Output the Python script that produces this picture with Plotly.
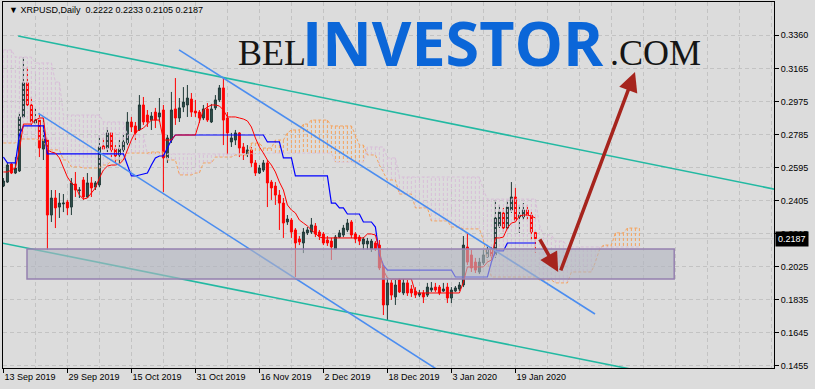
import plotly.graph_objects as go

# ---------------- data ----------------
tick_bars = [0, 16, 32, 48, 64, 80, 96, 112, 128]
tick_labels = ["13 Sep 2019", "29 Sep 2019", "15 Oct 2019", "31 Oct 2019", "16 Nov 2019",
               "2 Dec 2019", "18 Dec 2019", "3 Jan 2020", "19 Jan 2020"]
price_ticks = [0.1455, 0.1645, 0.1835, 0.2025, 0.2215, 0.2405, 0.2595, 0.2785, 0.2975, 0.3165, 0.3360]
price_tick_text = ["0.1455", "0.1645", "0.1835", "0.2025", "0.2215", "0.2405", "0.2595",
                   "0.2785", "0.2975", "0.3165", "0.3360"]

open_ = [
    0.2490, 0.2513, 0.2617, 0.2565, 0.2577, 0.2888, 0.3084, 0.2957, 0.2853, 0.2870,
    0.2703, 0.2755, 0.2323, 0.2421, 0.2369, 0.2387, 0.2398, 0.2369, 0.2502, 0.2464,
    0.2525, 0.2427, 0.2508, 0.2484, 0.2496, 0.2721, 0.2709, 0.2796, 0.2703, 0.2669,
    0.2698, 0.2738, 0.2859, 0.2836, 0.2813, 0.2957, 0.2899, 0.2870, 0.2916, 0.2888,
    0.2928, 0.2652, 0.2755, 0.2934, 0.2882, 0.2945, 0.2957, 0.2991, 0.2922, 0.2916,
    0.2882, 0.2934, 0.2859, 0.2940, 0.2986, 0.3055, 0.2882, 0.2744, 0.2755, 0.2796,
    0.2715, 0.2675, 0.2698, 0.2623, 0.2565, 0.2582, 0.2623, 0.2513, 0.2490, 0.2438,
    0.2392, 0.2283, 0.2294, 0.2237, 0.2185, 0.2162, 0.2220, 0.2225, 0.2260, 0.2225,
    0.2214, 0.2179, 0.2173, 0.2127, 0.2196, 0.2208, 0.2237, 0.2283, 0.2214, 0.2196,
    0.2156, 0.2156, 0.2127, 0.2162, 0.2150, 0.2024, 0.1805, 0.1932, 0.1851, 0.1949,
    0.1874, 0.1932, 0.1897, 0.1885, 0.1862, 0.1874, 0.1862, 0.1891, 0.1908, 0.1908,
    0.1885, 0.1908, 0.1845, 0.1885, 0.1897, 0.1920, 0.2139, 0.2093, 0.2052, 0.1995,
    0.2047, 0.2081, 0.2122, 0.2093, 0.2260, 0.2335, 0.2248, 0.2352, 0.2427, 0.2312,
    0.2312, 0.2352, 0.2323, 0.2222]
high = [
    0.2536, 0.2623, 0.2623, 0.2657, 0.2916, 0.3233, 0.3176, 0.3003, 0.2940, 0.2899,
    0.2888, 0.2767, 0.2467, 0.2467, 0.2450, 0.2444, 0.2410, 0.2536, 0.2571, 0.2484,
    0.2542, 0.2565, 0.2542, 0.2519, 0.2784, 0.2767, 0.2830, 0.2801, 0.2726, 0.2755,
    0.2784, 0.2916, 0.2888, 0.2859, 0.3014, 0.3003, 0.2928, 0.2916, 0.2940, 0.2997,
    0.2957, 0.2784, 0.3032, 0.3112, 0.2997, 0.3060, 0.3072, 0.3026, 0.2986, 0.2928,
    0.2957, 0.2968, 0.2963, 0.3014, 0.3072, 0.3118, 0.2916, 0.2796, 0.2813, 0.2801,
    0.2738, 0.2726, 0.2715, 0.2640, 0.2611, 0.2640, 0.2640, 0.2525, 0.2513, 0.2467,
    0.2421, 0.2323, 0.2306, 0.2248, 0.2202, 0.2248, 0.2254, 0.2306, 0.2277, 0.2237,
    0.2225, 0.2202, 0.2191, 0.2208, 0.2237, 0.2266, 0.2300, 0.2294, 0.2225, 0.2208,
    0.2196, 0.2191, 0.2185, 0.2173, 0.2179, 0.2035, 0.1960, 0.1949, 0.1949, 0.1960,
    0.1955, 0.1949, 0.1920, 0.1908, 0.1891, 0.1891, 0.1932, 0.1937, 0.1932, 0.1920,
    0.1932, 0.1932, 0.1908, 0.1914, 0.1937, 0.2202, 0.2220, 0.2122, 0.2076, 0.2076,
    0.2122, 0.2150, 0.2139, 0.2410, 0.2381, 0.2364, 0.2410, 0.2513, 0.2479, 0.2381,
    0.2392, 0.2381, 0.2340, 0.2233]
low = [
    0.2484, 0.2508, 0.2559, 0.2559, 0.2571, 0.2882, 0.2951, 0.2842, 0.2847, 0.2657,
    0.2640, 0.2122, 0.2283, 0.2248, 0.2306, 0.2340, 0.2323, 0.2323, 0.2427, 0.2421,
    0.2410, 0.2421, 0.2427, 0.2467, 0.2484, 0.2698, 0.2686, 0.2657, 0.2623, 0.2623,
    0.2669, 0.2726, 0.2801, 0.2755, 0.2807, 0.2842, 0.2830, 0.2813, 0.2824, 0.2859,
    0.2456, 0.2623, 0.2738, 0.2842, 0.2859, 0.2916, 0.2888, 0.2888, 0.2888, 0.2853,
    0.2870, 0.2859, 0.2853, 0.2928, 0.2974, 0.2726, 0.2669, 0.2715, 0.2726, 0.2657,
    0.2640, 0.2657, 0.2600, 0.2548, 0.2559, 0.2571, 0.2369, 0.2410, 0.2381, 0.2237,
    0.2191, 0.2266, 0.2191, 0.1966, 0.2150, 0.2104, 0.2208, 0.2214, 0.2196, 0.2179,
    0.2150, 0.2145, 0.2064, 0.2122, 0.2191, 0.2196, 0.2225, 0.2191, 0.2162, 0.2150,
    0.2122, 0.2122, 0.2110, 0.2116, 0.2006, 0.1747, 0.1713, 0.1834, 0.1805, 0.1874,
    0.1862, 0.1857, 0.1851, 0.1845, 0.1851, 0.1816, 0.1851, 0.1880, 0.1880, 0.1862,
    0.1880, 0.1816, 0.1816, 0.1880, 0.1885, 0.1908, 0.2035, 0.1995, 0.1989, 0.1983,
    0.2035, 0.2076, 0.2076, 0.2076, 0.2248, 0.2225, 0.2237, 0.2335, 0.2283, 0.2220,
    0.2294, 0.2294, 0.2179, 0.2105]
close = [
    0.2519, 0.2611, 0.2565, 0.2594, 0.2888, 0.3084, 0.2957, 0.2859, 0.2870, 0.2709,
    0.2761, 0.2323, 0.2421, 0.2364, 0.2392, 0.2392, 0.2364, 0.2508, 0.2467, 0.2467,
    0.2427, 0.2508, 0.2479, 0.2508, 0.2715, 0.2703, 0.2796, 0.2698, 0.2663, 0.2703,
    0.2744, 0.2859, 0.2830, 0.2796, 0.2957, 0.2859, 0.2859, 0.2893, 0.2870, 0.2911,
    0.2652, 0.2767, 0.2928, 0.2882, 0.2940, 0.2974, 0.2997, 0.2916, 0.2911, 0.2882,
    0.2934, 0.2870, 0.2934, 0.2986, 0.3055, 0.2870, 0.2796, 0.2767, 0.2796, 0.2709,
    0.2680, 0.2698, 0.2623, 0.2565, 0.2594, 0.2623, 0.2508, 0.2479, 0.2438, 0.2392,
    0.2277, 0.2300, 0.2225, 0.2162, 0.2168, 0.2225, 0.2237, 0.2266, 0.2214, 0.2202,
    0.2162, 0.2162, 0.2139, 0.2196, 0.2220, 0.2248, 0.2277, 0.2208, 0.2185, 0.2173,
    0.2185, 0.2173, 0.2173, 0.2127, 0.2018, 0.1805, 0.1932, 0.1862, 0.1920, 0.1880,
    0.1932, 0.1874, 0.1874, 0.1862, 0.1874, 0.1851, 0.1908, 0.1903, 0.1891, 0.1874,
    0.1897, 0.1845, 0.1891, 0.1903, 0.1920, 0.2150, 0.2052, 0.2018, 0.2006, 0.2052,
    0.2093, 0.2122, 0.2087, 0.2306, 0.2340, 0.2248, 0.2369, 0.2427, 0.2294, 0.2323,
    0.2352, 0.2323, 0.2225, 0.2187]

tenkan = [
    0.2571, 0.2571, 0.2582, 0.2594, 0.2698, 0.2847, 0.2847, 0.2847, 0.2870, 0.2882,
    0.2882, 0.2698, 0.2686, 0.2680, 0.2652, 0.2600, 0.2542, 0.2508, 0.2490, 0.2438,
    0.2415, 0.2421, 0.2450, 0.2479, 0.2536, 0.2582, 0.2605, 0.2611, 0.2611, 0.2617,
    0.2640, 0.2698, 0.2755, 0.2801, 0.2813, 0.2824, 0.2847, 0.2870, 0.2870, 0.2870,
    0.2755, 0.2755, 0.2755, 0.2784, 0.2784, 0.2784, 0.2784, 0.2784, 0.2784, 0.2859,
    0.2928, 0.2945, 0.2957, 0.2957, 0.2951, 0.2928, 0.2888, 0.2888, 0.2888, 0.2882,
    0.2876, 0.2865, 0.2830, 0.2767, 0.2715, 0.2680, 0.2640, 0.2611, 0.2571, 0.2513,
    0.2467, 0.2381, 0.2352, 0.2335, 0.2294, 0.2277, 0.2260, 0.2237, 0.2214, 0.2196,
    0.2191, 0.2191, 0.2191, 0.2191, 0.2191, 0.2191, 0.2191, 0.2191, 0.2191, 0.2191,
    0.2191, 0.2214, 0.2214, 0.2208, 0.2122, 0.2006, 0.1960, 0.1955, 0.1955, 0.1955,
    0.1955, 0.1955, 0.1955, 0.1874, 0.1874, 0.1874, 0.1874, 0.1874, 0.1874, 0.1874,
    0.1874, 0.1874, 0.1874, 0.1874, 0.1874, 0.1937, 0.2024, 0.2024, 0.2024, 0.2024,
    0.2024, 0.2052, 0.2064, 0.2191, 0.2191, 0.2196, 0.2248, 0.2277, 0.2283, 0.2317,
    0.2323, 0.2323, 0.2317, 0.2306]
kijun = [
    0.2657, 0.2623, 0.2623, 0.2623, 0.2784, 0.2836, 0.2836, 0.2836, 0.2836, 0.2836,
    0.2836, 0.2675, 0.2675, 0.2675, 0.2675, 0.2675, 0.2675, 0.2675, 0.2675, 0.2675,
    0.2675, 0.2675, 0.2675, 0.2675, 0.2675, 0.2675, 0.2675, 0.2675, 0.2675, 0.2675,
    0.2675, 0.2611, 0.2548, 0.2548, 0.2554, 0.2559, 0.2565, 0.2611, 0.2652, 0.2663,
    0.2663, 0.2709, 0.2755, 0.2784, 0.2784, 0.2784, 0.2784, 0.2784, 0.2784, 0.2784,
    0.2784, 0.2784, 0.2784, 0.2784, 0.2784, 0.2784, 0.2784, 0.2784, 0.2784, 0.2784,
    0.2784, 0.2784, 0.2784, 0.2784, 0.2784, 0.2784, 0.2744, 0.2744, 0.2744, 0.2744,
    0.2652, 0.2652, 0.2652, 0.2548, 0.2548, 0.2548, 0.2548, 0.2548, 0.2548, 0.2548,
    0.2548, 0.2548, 0.2392, 0.2392, 0.2364, 0.2364, 0.2329, 0.2329, 0.2329, 0.2329,
    0.2283, 0.2283, 0.2283, 0.2254, 0.2093, 0.2035, 0.2006, 0.2006, 0.2006, 0.2006,
    0.2006, 0.2006, 0.2006, 0.2006, 0.2006, 0.2006, 0.2006, 0.2006, 0.2006, 0.2006,
    0.2006, 0.2006, 0.2006, 0.1966, 0.1966, 0.1966, 0.1966, 0.1966, 0.1966, 0.1966,
    0.1966, 0.1966, 0.2052, 0.2116, 0.2116, 0.2116, 0.2162, 0.2162, 0.2162, 0.2162,
    0.2162, 0.2162, 0.2162, 0.2162]
span_a = [
    0.2738, 0.2738, 0.2738, 0.2738, 0.2761, 0.2761, 0.2761, 0.2761, 0.2761, 0.2755,
    0.2755, 0.2698, 0.2698, 0.2698, 0.2698, 0.2640, 0.2640, 0.2600, 0.2600, 0.2600,
    0.2594, 0.2594, 0.2594, 0.2594, 0.2594, 0.2611, 0.2611, 0.2640, 0.2640, 0.2640,
    0.2640, 0.2680, 0.2680, 0.2680, 0.2680, 0.2680, 0.2680, 0.2686, 0.2686, 0.2686,
    0.2686, 0.2640, 0.2640, 0.2640, 0.2554, 0.2554, 0.2554, 0.2554, 0.2565, 0.2565,
    0.2623, 0.2623, 0.2623, 0.2657, 0.2657, 0.2657, 0.2657, 0.2657, 0.2669, 0.2669,
    0.2669, 0.2669, 0.2738, 0.2738, 0.2738, 0.2709, 0.2709, 0.2709, 0.2755, 0.2755,
    0.2755, 0.2796, 0.2813, 0.2813, 0.2813, 0.2847, 0.2847, 0.2870, 0.2870, 0.2870,
    0.2870, 0.2870, 0.2836, 0.2836, 0.2836, 0.2836, 0.2836, 0.2836, 0.2784, 0.2726,
    0.2726, 0.2669, 0.2669, 0.2669, 0.2611, 0.2571, 0.2525, 0.2525, 0.2525, 0.2444,
    0.2444, 0.2444, 0.2444, 0.2364, 0.2364, 0.2364, 0.2364, 0.2289, 0.2289, 0.2289,
    0.2289, 0.2289, 0.2254, 0.2254, 0.2254, 0.2243, 0.2243, 0.2243, 0.2243, 0.2243,
    0.2179, 0.2052, 0.1966, 0.1966, 0.1966, 0.1966, 0.1966, 0.1966, 0.1966, 0.1966,
    0.1966, 0.1966, 0.1966, 0.1966, 0.1949, 0.1949, 0.1949, 0.1949, 0.1932, 0.1932,
    0.1932, 0.1932, 0.1995, 0.1995, 0.1995, 0.1995, 0.1995, 0.1995, 0.2052, 0.2122,
    0.2150, 0.2150, 0.2150, 0.2220, 0.2220, 0.2220, 0.2248, 0.2248, 0.2248, 0.2248]
span_b = [
    0.3274, 0.3274, 0.3274, 0.3233, 0.3233, 0.3233, 0.3233, 0.3233, 0.3199, 0.3199,
    0.3199, 0.3199, 0.3199, 0.3089, 0.3089, 0.2899, 0.2899, 0.2899, 0.2899, 0.2899,
    0.2899, 0.2899, 0.2899, 0.2899, 0.2899, 0.2859, 0.2859, 0.2859, 0.2859, 0.2859,
    0.2859, 0.2784, 0.2784, 0.2784, 0.2784, 0.2784, 0.2675, 0.2675, 0.2675, 0.2675,
    0.2675, 0.2675, 0.2675, 0.2675, 0.2675, 0.2675, 0.2675, 0.2675, 0.2675, 0.2675,
    0.2675, 0.2675, 0.2675, 0.2675, 0.2675, 0.2675, 0.2675, 0.2675, 0.2675, 0.2675,
    0.2675, 0.2675, 0.2675, 0.2675, 0.2675, 0.2675, 0.2680, 0.2680, 0.2680, 0.2680,
    0.2680, 0.2680, 0.2680, 0.2680, 0.2680, 0.2680, 0.2680, 0.2680, 0.2680, 0.2680,
    0.2680, 0.2680, 0.2680, 0.2628, 0.2628, 0.2628, 0.2628, 0.2628, 0.2628, 0.2628,
    0.2628, 0.2715, 0.2715, 0.2715, 0.2715, 0.2715, 0.2652, 0.2652, 0.2652, 0.2542,
    0.2542, 0.2542, 0.2542, 0.2542, 0.2542, 0.2542, 0.2542, 0.2542, 0.2542, 0.2542,
    0.2542, 0.2542, 0.2542, 0.2542, 0.2542, 0.2542, 0.2542, 0.2542, 0.2542, 0.2542,
    0.2467, 0.2415, 0.2415, 0.2415, 0.2415, 0.2415, 0.2415, 0.2415, 0.2415, 0.2415,
    0.2415, 0.2415, 0.2415, 0.2415, 0.2266, 0.2208, 0.2208, 0.2208, 0.2173, 0.2173,
    0.2173, 0.2139, 0.2139, 0.2139, 0.2139, 0.2139, 0.2139, 0.2139, 0.2139, 0.2139,
    0.2139, 0.2139, 0.2139, 0.2139, 0.2139, 0.2139, 0.2139, 0.2139, 0.2139, 0.2139]

last_price = 0.2187
ohlc_text = "0.2222 0.2233 0.2105 0.2187"

# drawing objects (bar index, price)
zone_bars = [5.9, 167.7]
zone_prices = [0.1955, 0.2127]
teal_upper_bars, teal_upper_prices = [3.7, 196.2], [0.3354, 0.2456]
teal_lower_bars, teal_lower_prices = [-0.8, 176.7], [0.2164, 0.1344]
blue_upper_bars, blue_upper_prices = [43.9, 147.9], [0.3274, 0.1753]
blue_lower_bars, blue_lower_prices = [8.75, 112.9], [0.2909, 0.1367]
arrow_down_bars, arrow_down_prices = [133.9, 138.7], [0.2191, 0.1995]   # tail, tip
arrow_up_bars, arrow_up_prices = [139.2, 157.9], [0.1995, 0.3147]      # tail, tip

# ---------------- figure ----------------
BG = "#DCDCDC"
GRID = "#C3C3C3"
bars = list(range(len(close)))
cloud_bars = list(range(len(span_a)))

hx_o, hy_o, hx_t, hy_t = [], [], [], []
for i, (a, b) in enumerate(zip(span_a, span_b)):
    if a >= b:
        hx_o += [i, i, None]; hy_o += [a, b, None]
    else:
        hx_t += [i, i, None]; hy_t += [a, b, None]

fig = go.Figure()
fig.add_trace(go.Scatter(x=hx_t, y=hy_t, mode="lines", line=dict(color="#D8BFD8", width=1, dash="3px,2px"),
                         hoverinfo="skip", showlegend=False))
fig.add_trace(go.Scatter(x=hx_o, y=hy_o, mode="lines", line=dict(color="#F4A460", width=1, dash="3px,2px"),
                         hoverinfo="skip", showlegend=False))
fig.add_trace(go.Scatter(x=cloud_bars, y=span_b, mode="lines", line=dict(color="#D8BFD8", width=1, dash="3px,2px"),
                         hoverinfo="skip", showlegend=False))
fig.add_trace(go.Scatter(x=cloud_bars, y=span_a, mode="lines", line=dict(color="#F4A460", width=1, dash="3px,2px"),
                         hoverinfo="skip", showlegend=False))
fig.add_trace(go.Candlestick(
    x=bars, open=open_, high=high, low=low, close=close,
    increasing=dict(line=dict(color="#1F3836", width=1), fillcolor="#2F504D"),
    decreasing=dict(line=dict(color="#FF0000", width=1), fillcolor="#FF0000"),
    whiskerwidth=0, showlegend=False, hoverinfo="skip"))
fig.add_trace(go.Scatter(x=bars, y=kijun, mode="lines", line=dict(color="#0000FF", width=1.2, shape="linear"),
                         hoverinfo="skip", showlegend=False))
fig.add_trace(go.Scatter(x=bars, y=tenkan, mode="lines", line=dict(color="#FF0000", width=1),
                         hoverinfo="skip", showlegend=False))
for bx, py, col in [(teal_upper_bars, teal_upper_prices, "#22B9A2"),
                    (teal_lower_bars, teal_lower_prices, "#22B9A2"),
                    (blue_upper_bars, blue_upper_prices, "#4B8DF0"),
                    (blue_lower_bars, blue_lower_prices, "#4B8DF0")]:
    fig.add_trace(go.Scatter(x=bx, y=py, mode="lines", line=dict(color=col, width=1.6),
                             hoverinfo="skip", showlegend=False))

fig.add_shape(type="line", xref="paper", x0=0, x1=1, yref="y", y0=last_price, y1=last_price,
              line=dict(color="#CACACA", width=1), layer="below")
fig.add_shape(type="rect", xref="x", yref="y", x0=zone_bars[0], x1=zone_bars[1],
              y0=zone_prices[0], y1=zone_prices[1], fillcolor="rgba(178,180,192,0.62)",
              line=dict(color="#9580B0", width=1.5), layer="above")

ARROW = "#A6241D"
annotations = [
    dict(x=arrow_down_bars[1], y=arrow_down_prices[1], ax=arrow_down_bars[0], ay=arrow_down_prices[0],
         xref="x", yref="y", axref="x", ayref="y", showarrow=True, arrowhead=2, arrowsize=1.1,
         arrowwidth=3.5, arrowcolor=ARROW, text=""),
    dict(x=arrow_up_bars[1], y=arrow_up_prices[1], ax=arrow_up_bars[0], ay=arrow_up_prices[0],
         xref="x", yref="y", axref="x", ayref="y", showarrow=True, arrowhead=2, arrowsize=1.1,
         arrowwidth=3.5, arrowcolor=ARROW, text=""),
    dict(text="BEL", xref="paper", yref="paper", x=0.3022, y=0.8607, xanchor="left", yanchor="middle",
         showarrow=False, font=dict(family="Liberation Serif", size=36, color="#151515")),
    dict(text="<b>INVESTOR</b>", xref="paper", yref="paper", x=0.3858, y=0.8893, xanchor="left",
         yanchor="middle", showarrow=False, font=dict(family="Open Sans", size=61, color="#0B66D8")),
    dict(text=".COM", xref="paper", yref="paper", x=0.7847, y=0.8607, xanchor="left", yanchor="middle",
         showarrow=False, font=dict(family="Liberation Serif", size=36, color="#151515")),
    dict(text="\u25BC XRPUSD,Daily\u00a0\u00a0" + ohlc_text, xref="paper", yref="paper", x=0.005, y=0.978,
         xanchor="left", yanchor="middle", showarrow=False,
         font=dict(family="Liberation Sans", size=9, color="#000000")),
    dict(text="%.4f" % last_price, xref="paper", yref="y", x=1.0, y=last_price, xanchor="left",
         yanchor="middle", showarrow=False, bgcolor="#000000", borderpad=2, xshift=1,
         font=dict(family="Liberation Sans", size=9, color="#FFFFFF")),
]

fig.update_layout(
    width=815, height=389,
    margin=dict(l=3, r=41, t=2, b=21, autoexpand=False),
    paper_bgcolor=BG, plot_bgcolor=BG,
    font=dict(family="Liberation Sans", size=9, color="#000000"),
    showlegend=False,
    annotations=annotations,
    xaxis=dict(
        range=[-0.1, 192.65], rangeslider=dict(visible=False),
        tickmode="array", tickvals=tick_bars, ticktext=tick_labels,
        ticks="outside", ticklen=4, tickcolor="#000000", ticklabelposition="outside right",
        showline=True, linecolor="#000000", linewidth=1, mirror=True,
        showgrid=True, gridcolor=GRID, griddash="4px,3px", gridwidth=1, zeroline=False,
        minor=dict(tickmode="linear", tick0=0, dtick=8, showgrid=True, gridcolor=GRID,
                   griddash="4px,3px", ticks=""),
        fixedrange=True,
    ),
    yaxis=dict(
        side="right", range=[0.14419, 0.35501],
        tickmode="array", tickvals=price_ticks, ticktext=price_tick_text,
        ticks="outside", ticklen=4, tickcolor="#000000",
        showline=True, linecolor="#000000", linewidth=1, mirror=True,
        showgrid=True, gridcolor=GRID, griddash="4px,3px", gridwidth=1, zeroline=False,
        fixedrange=True,
    ),
)

fig.write_html("out.html")
